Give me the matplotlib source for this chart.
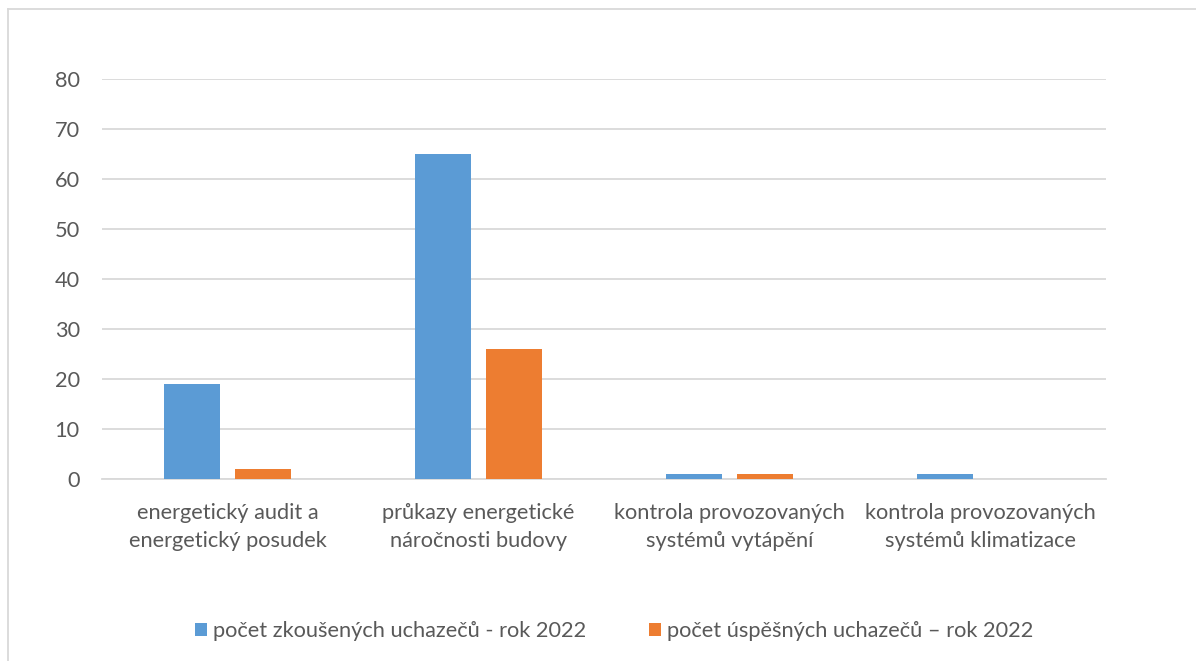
import matplotlib
matplotlib.use("Agg")
import matplotlib.pyplot as plt
import numpy as np

# data
categories = ["energetický audit a\nenergetický posudek",
              "průkazy energetické\nnáročnosti budovy",
              "kontrola provozovaných\nsystémů vytápění",
              "kontrola provozovaných\nsystémů klimatizace"]
tested = [19, 65, 1, 1]
passed = [2, 26, 1, 0]
series_names = ["počet zkoušených uchazečů - rok 2022",
                "počet úspěšných uchazečů – rok 2022"]
yticks = [0, 10, 20, 30, 40, 50, 60, 70, 80]

plt.rcParams['font.family'] = ['Lato', 'DejaVu Sans']
grey = '#595959'
fs = 15.7

fig = plt.figure(figsize=(11.96, 6.61), dpi=100)
W, H = 1196, 661
ax = fig.add_axes([102 / W, 1 - 479 / H, (1106 - 102) / W, 400 / H])

x = np.arange(len(categories))
bw = 0.223
off = 0.143
ax.bar(x - off, tested, bw, color='#5B9BD5', label=series_names[0], zorder=3)
ax.bar(x + off, passed, bw, color='#ED7D31', label=series_names[1], zorder=3)

ax.set_xlim(-0.5, len(categories) - 0.5)
ax.set_ylim(0, 80)
ax.set_yticks(yticks)
ax.yaxis.grid(True, color='#D9D9D9', linewidth=1.3, zorder=0)
for s in ['top', 'right', 'left']:
    ax.spines[s].set_visible(False)
ax.spines['bottom'].set_color('#D9D9D9')
ax.spines['bottom'].set_linewidth(1.3)
ax.tick_params(axis='both', length=0, labelsize=fs, colors=grey)
ax.tick_params(axis='y', pad=16)
ax.tick_params(axis='x', pad=17)
ax.set_xticks(x)
ax.set_xticklabels(categories, linespacing=1.5)

leg = fig.legend(loc='center', bbox_to_anchor=(614 / W, 1 - 631 / H), ncol=2,
                 frameon=False, fontsize=fs, handlelength=0.55, handleheight=0.55,
                 handletextpad=0.25, columnspacing=2.9)
for t in leg.get_texts():
    t.set_color(grey)

# outer chart frame (top and left edges visible)
fig.add_artist(plt.Line2D([8 / W, 8 / W], [0, 1 - 9 / H], transform=fig.transFigure,
                          color='#D9D9D9', linewidth=1.3))
fig.add_artist(plt.Line2D([8 / W, 1], [1 - 9 / H, 1 - 9 / H], transform=fig.transFigure,
                          color='#D9D9D9', linewidth=1.3))

fig.savefig('out.png', dpi=100)
